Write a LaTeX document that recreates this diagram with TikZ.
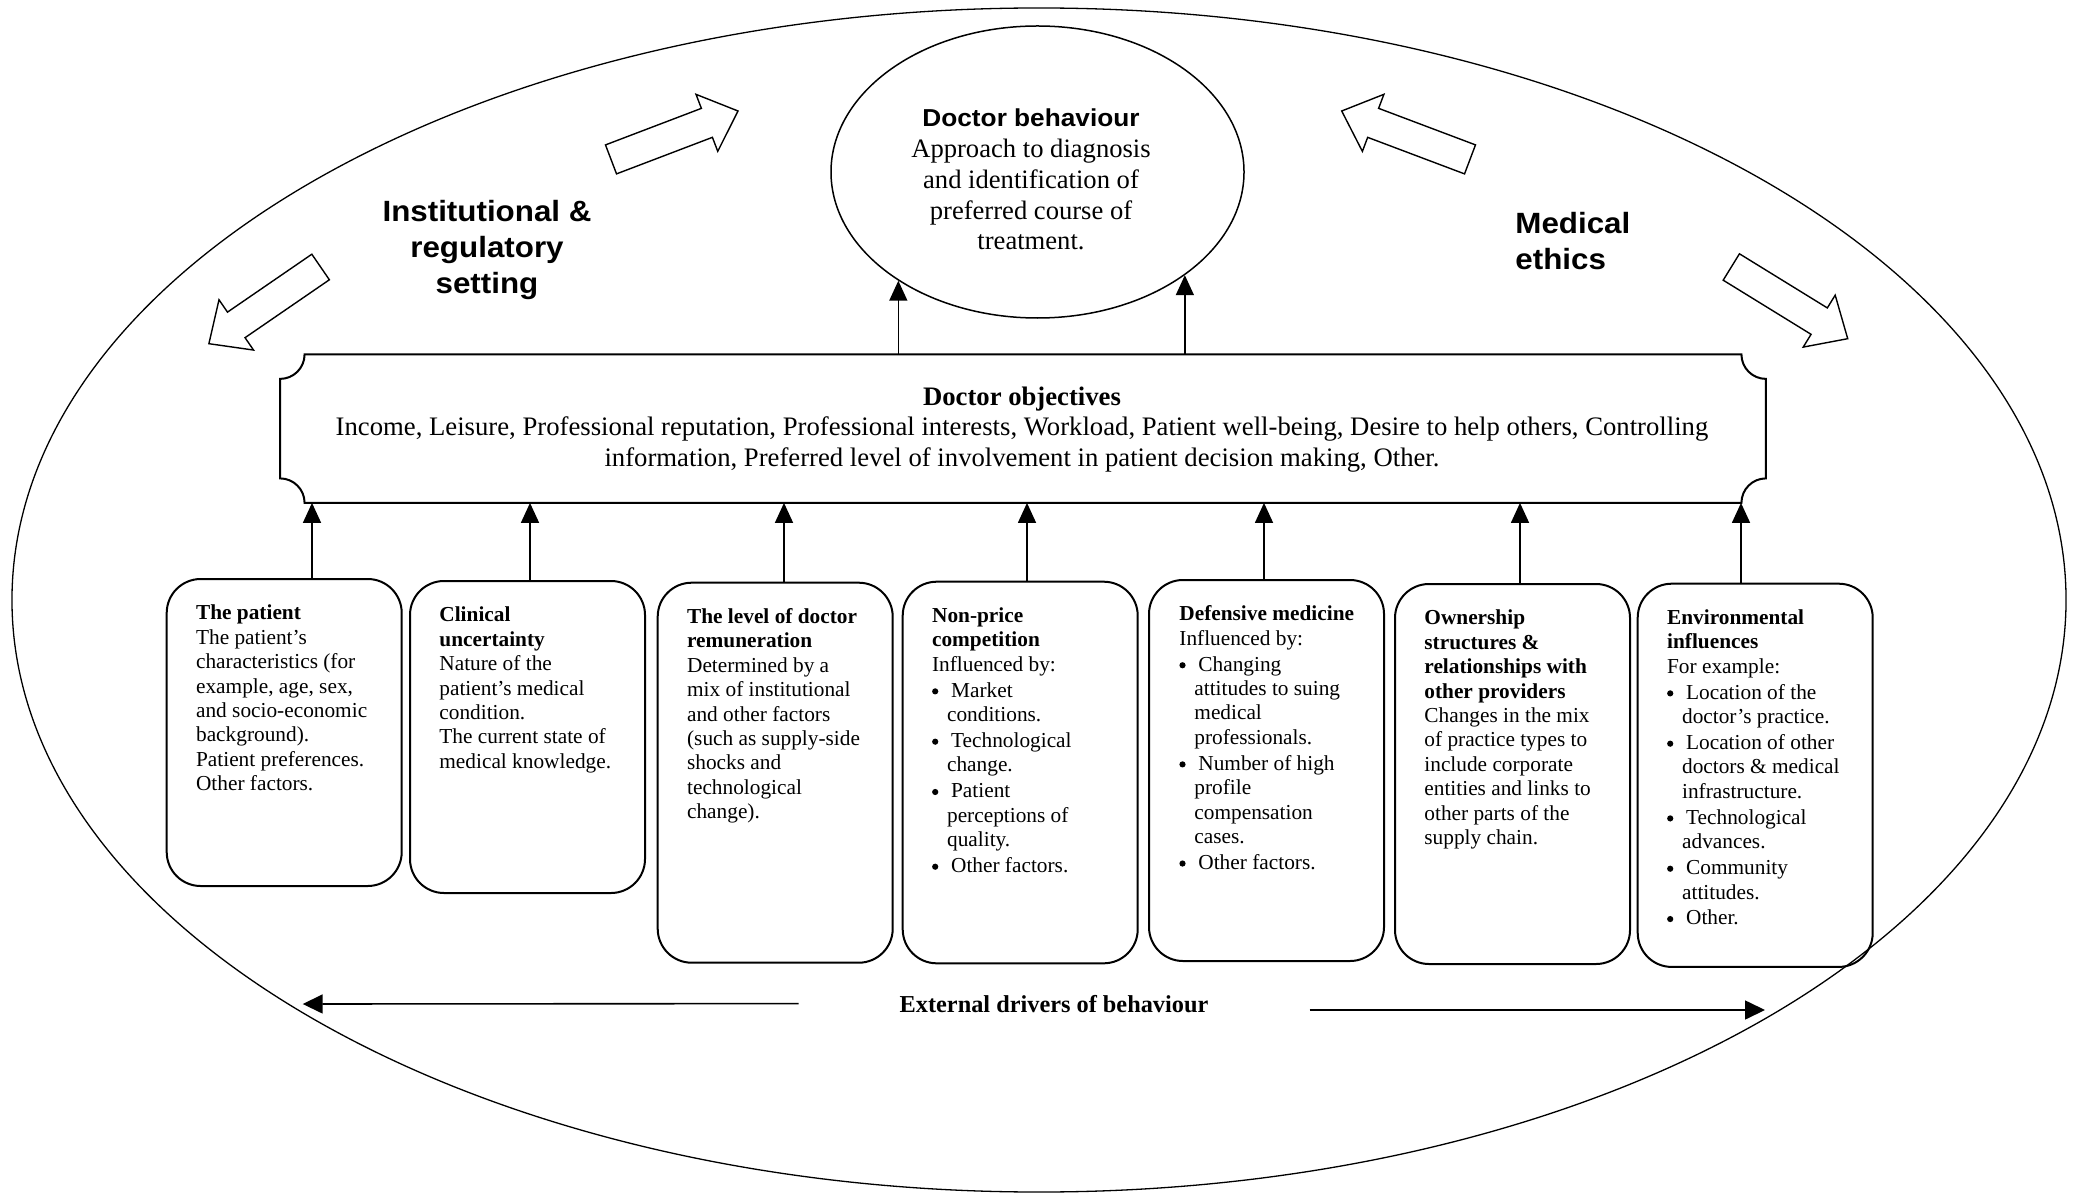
\documentclass[tikz,border=0pt]{standalone}
\usepackage{fontspec}
\setmainfont{Liberation Serif}
\setsansfont{Liberation Sans}
\newfontfamily\headsans[FakeStretch=1.07]{Liberation Sans}
\usetikzlibrary{calc,arrows.meta,shapes.geometric}

% bullet item and its continuation indent inside the factor boxes
\newcommand\bitem{\makebox[9.5bp][l]{\raisebox{1.4bp}{\tikz\fill (0bp,0bp) circle[radius=1.55bp];}}}
\newcommand\bcont{\hspace*{7.5bp}}

% hollow block arrow from a tail point (#1) to a tip point (#2)
\newcommand\hollowarrow[2]{%
  \coordinate (ha-h) at ($(#1)!0.755!(#2)$);
  \draw[hollow]
    ($(#1)!7.75bp!90:(#2)$) -- ($(ha-h)!7.75bp!90:(#2)$)
    -- ($(ha-h)!15.25bp!90:(#2)$) -- (#2)
    -- ($(ha-h)!15.25bp!-90:(#2)$) -- ($(ha-h)!7.75bp!-90:(#2)$)
    -- ($(#1)!7.75bp!-90:(#2)$) -- cycle;
}

\tikzset{
  factorbox/.style={draw, line width=1bp, rounded corners=17bp,
    minimum width=117.5bp, inner sep=0pt, anchor=north west},
  factortext/.style={anchor=north west, inner sep=0pt, align=left,
    font=\fontsize{10.7}{12.25}\selectfont},
  upconn/.style={line width=0.75bp, -{Triangle[length=10bp,width=9bp]}},
  hollow/.style={line width=0.7bp, line join=miter, fill=white},
  headlabel/.style={inner sep=0pt, font=\headsans\bfseries\fontsize{14.7}{18}\selectfont},
  driverline/.style={line width=0.8bp, -{Triangle[length=10bp,width=9.5bp]}},
}

\begin{document}
\begin{tikzpicture}[x=0.5bp, y=-0.5bp]
\useasboundingbox (0,0) rectangle (2080,1193);
\fill[white] (0,0) rectangle (2080,1193);

% surrounding field
\node[draw, ellipse, minimum width=1027bp, minimum height=592bp, inner sep=0pt,
  line width=0.65bp] (field) at (1039,600) {};

% doctor behaviour
\node[draw, ellipse, minimum width=206.5bp, minimum height=146bp, inner sep=0pt,
  line width=0.75bp] (beh) at (1037.5,172) {};
\node[font=\fontsize{13.35}{15.4}\selectfont, align=center, anchor=north,
  inner sep=0pt] (behtxt) at (1031,105.1)
  {{\headsans\bfseries\fontsize{12.3}{15.4}\selectfont\strut Doctor behaviour}\\
   Approach to diagnosis\\and identification of\\preferred course of\\treatment.};

% side headings
\node[headlabel, align=center, anchor=north] (inst) at (487,195.8)
  {\strut Institutional \&\\regulatory\\setting};
\node[headlabel, align=left, anchor=north west] (ethics) at (1515,207.8)
  {\strut Medical\\ethics};

% hollow arrows around the headings
\coordinate (h1t) at (611,159.4);   \coordinate (h1p) at (738,111);
\coordinate (h2t) at (1470,159.4);  \coordinate (h2p) at (1341.7,111);
\coordinate (h3t) at (320.6,267);   \coordinate (h3p) at (208.9,343.7);
\coordinate (h4t) at (1731.3,267);  \coordinate (h4p) at (1847.7,338.7);
\hollowarrow{h1t}{h1p}
\hollowarrow{h2t}{h2p}
\hollowarrow{h3t}{h3p}
\hollowarrow{h4t}{h4p}

% doctor objectives plaque
\node[minimum width=742.5bp, minimum height=73.85bp, inner sep=0pt] (obj) at (1023,428.65) {};
\draw[line width=1bp]
  ([xshift=12.25bp]obj.north west) -- ([xshift=-12.25bp]obj.north east)
  arc[start angle=180, end angle=270, radius=12.25bp]
  -- ([yshift=12.25bp]obj.south east)
  arc[start angle=90, end angle=180, radius=12.25bp]
  -- ([xshift=12.25bp]obj.south west)
  arc[start angle=0, end angle=90, radius=12.25bp]
  -- ([yshift=-12.25bp]obj.north west)
  arc[start angle=270, end angle=360, radius=12.25bp] -- cycle;
\node[font=\fontsize{13.4}{15.4}\selectfont, align=center, anchor=north,
  inner sep=0pt] (objtxt) at (1022,383.4)
  {\strut\textbf{Doctor objectives}\\
   Income, Leisure, Professional reputation, Professional interests, Workload, Patient well-being, Desire to help others, Controlling\\
   information, Preferred level of involvement in patient decision making, Other.};

\draw[upconn] (beh.218 |- obj.north) -- (beh.218);
\draw[upconn] (beh.325 |- obj.north) -- (beh.325);

% factor boxes
\node[factorbox, minimum height=153.5bp] (b1) at (165.7,578) {};
\node[factorbox, minimum height=156bp]   (b2) at (409,580) {};
\node[factorbox, minimum height=190bp]   (b3) at (656.7,581.7) {};
\node[factorbox, minimum height=190.8bp] (b4) at (901.7,580.7) {};
\node[factorbox, minimum height=190.5bp] (b5) at (1148,579) {};
\node[factorbox, minimum height=190bp]   (b6) at (1394,583) {};
\node[factorbox, minimum height=191.6bp] (b7) at (1636.7,582.7) {};

\node[factortext] (t1) at ($(b1.north west)+(30,24.35)$)
  {\strut\textbf{The patient}\\The patient’s\\characteristics (for\\example, age, sex,\\and socio-economic\\background).\\Patient preferences.\\Other factors.};
\node[factortext] (t2) at ($(b2.north west)+(30,24.35)$)
  {\strut\textbf{Clinical}\\\textbf{uncertainty}\\Nature of the\\patient’s medical\\condition.\\The current state of\\medical knowledge.};
\node[factortext] (t3) at ($(b3.north west)+(30,24.35)$)
  {\strut\textbf{The level of doctor}\\\textbf{remuneration}\\Determined by a\\mix of institutional\\and other factors\\(such as supply-side\\shocks and\\technological\\change).};
\node[factortext] (t4) at ($(b4.north west)+(30,24.35)$)
  {\strut\textbf{Non-price}\\\textbf{competition}\\Influenced by:\\[0.75bp]%
   \bitem Market\\\bcont conditions.\\[0.75bp]%
   \bitem Technological\\\bcont change.\\[0.75bp]%
   \bitem Patient\\\bcont perceptions of\\\bcont quality.\\[0.75bp]%
   \bitem Other factors.};
\node[factortext] (t5) at ($(b5.north west)+(31,24.35)$)
  {\strut\textbf{Defensive medicine}\\Influenced by:\\[0.75bp]%
   \bitem Changing\\\bcont attitudes to suing\\\bcont medical\\\bcont professionals.\\[0.75bp]%
   \bitem Number of high\\\bcont profile\\\bcont compensation\\\bcont cases.\\[0.75bp]%
   \bitem Other factors.};
\node[factortext] (t6) at ($(b6.north west)+(30,24.35)$)
  {\strut\textbf{Ownership}\\\textbf{structures \&}\\\textbf{relationships with}\\\textbf{other providers}\\Changes in the mix\\of practice types to\\include corporate\\entities and links to\\other parts of the\\supply chain.};
\node[factortext] (t7) at ($(b7.north west)+(30,24.35)$)
  {\strut\textbf{Environmental}\\\textbf{influences}\\For example:\\[0.75bp]%
   \bitem Location of the\\\bcont doctor’s practice.\\[0.75bp]%
   \bitem Location of other\\\bcont doctors \& medical\\\bcont infrastructure.\\[0.75bp]%
   \bitem Technological\\\bcont advances.\\[0.75bp]%
   \bitem Community\\\bcont attitudes.\\[0.75bp]%
   \bitem Other.};

% factor boxes feed the objectives
\coordinate (x1) at (312,0);
\coordinate (x2) at (530,0);
\coordinate (x3) at (784,0);
\coordinate (x4) at (1027,0);
\coordinate (x5) at (1264,0);
\coordinate (x6) at (1520,0);
\coordinate (x7) at (1741,0);
\foreach \i in {1,...,7}
  \draw[upconn] (x\i |- b\i.north) -- (x\i |- obj.south);

% external drivers
\node[font=\bfseries\fontsize{12.2}{14}\selectfont, inner sep=0pt, anchor=base]
  (drivers) at (1054,1012) {External drivers of behaviour};
\coordinate (dl) at (302.7,1004);
\coordinate (dr) at (1765,1010);
\draw[driverline] ($(drivers.west)+(-100.7,0)$) -- (dl);
\draw[driverline] ($(drivers.east |- dr)+(101,0)$) -- (dr);
\end{tikzpicture}
\end{document}
